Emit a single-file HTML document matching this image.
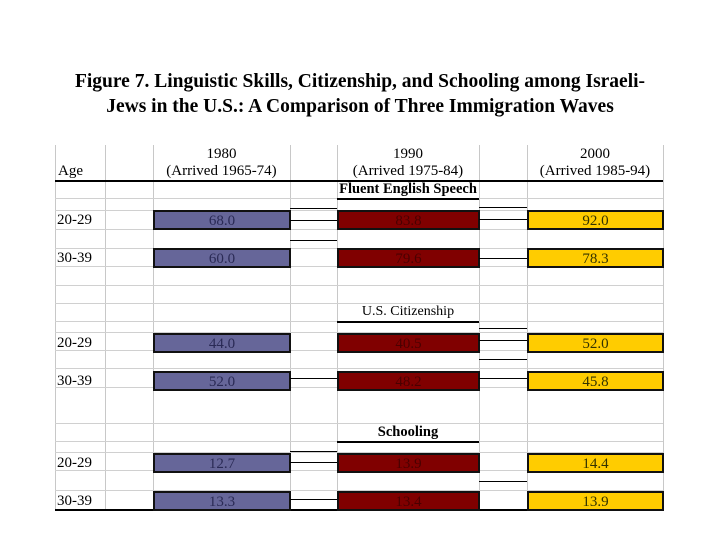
<!DOCTYPE html>
<html><head><meta charset="utf-8">
<style>
body{margin:0;width:720px;height:540px;background:#fff;position:relative;overflow:hidden;font-family:"Liberation Serif",serif;}
.a{position:absolute;}
#title{left:0;width:720px;top:69px;text-align:center;font-weight:bold;font-size:19.5px;line-height:25px;}
.t{position:absolute;font-size:15px;color:#000;white-space:nowrap;}
.bar{position:absolute;box-sizing:border-box;border:2px solid #111;text-align:center;font-size:15px;line-height:19px;}
</style></head><body>
<div id="title" class="a">Figure 7. Linguistic Skills, Citizenship, and Schooling among Israeli-<br>Jews in the U.S.: A Comparison of Three Immigration Waves</div>
<div id="grid"></div>
<script>
const waves=["1980","1990","2000"];
const arrived=["(Arrived 1965-74)","(Arrived 1975-84)","(Arrived 1985-94)"];
const sections=["Fluent English Speech","U.S. Citizenship","Schooling"];
const ages=["20-29","30-39"];
const fluent=[[68.0,60.0],[83.8,79.6],[92.0,78.3]];
const citizenship=[[44.0,52.0],[40.5,48.2],[52.0,45.8]];
const schooling=[[12.7,13.3],[13.9,13.4],[14.4,13.9]];
const data=[fluent,citizenship,schooling];

const colX=[[153,290],[337,479],[527,663]];
const fills=["#666699","#800000","#FFCC00"];
const txt=["#2a2a55","#4a0000","#333300"];
const sectionY=[180,303,423];
const rowOff=[30,68];
const g=document.getElementById('grid');
function line(x,y,w,h,c){const d=document.createElement('div');d.className='a';d.style.cssText=`left:${x}px;top:${y}px;width:${w}px;height:${h}px;background:${c}`;
g.appendChild(d);}
function text(s,x,y,w,align,extra){const d=document.createElement('div');d.className='t';d.style.cssText=`left:${x}px;top:${y}px;width:${w}px;text-align:${align};${extra||''}`;d.textContent=s;g.appendChild(d);return d;}
[55,105,153,290,337,479,527,663].forEach(x=>line(x,145,1,364,'#c8c8c8'));
[198,210,229,248,266,285,303,321,332,350,368,387,423,441,452,470,490].forEach(y=>line(55,y,608,1,'#d0d0d0'));
line(55,180,608,1.5,'#000');
line(55,509,608,1.5,'#000');
const age=text('Age',58,163,50,'left');


waves.forEach((w,i)=>{const c=colX[i];
const a=text(w,c[0]-10,146,c[1]-c[0]+20,'center');


const b=text(arrived[i],c[0]-10,163,c[1]-c[0]+20,'center');

});
sections.forEach((s,si)=>{const y0=sectionY[si];
const st=text(s,337,y0+1,142,'center',si==1?'':'font-weight:bold;font-size:14.5px;');
if(si==1)st.style.fontSize='14px';


line(337,y0+18,142,1.5,'#000');
ages.forEach((a,ai)=>{const y=y0+rowOff[ai];
const l=text(a,57,y+2,50,'left');


waves.forEach((w,wi)=>{const c=colX[wi];const v=data[si][wi][ai];
const b=document.createElement('div');b.className='bar';
b.style.cssText=`left:${c[0]}px;top:${y}px;width:${c[1]-c[0]+1}px;height:20px;background:${fills[wi]};color:${txt[wi]}`;
b.textContent=v.toFixed(1);


g.appendChild(b);});
});});
[[290,208],[290,220],[290,240],[479,207],[479,219],[479,258],
 [479,328],[479,340],[479,359],[290,378],[479,378],
 [290,451],[290,462],[290,499],[479,481]].forEach(p=>line(p[0],p[1],p[0]==290?47:48,1,'#000'));
</script>
</body></html>
